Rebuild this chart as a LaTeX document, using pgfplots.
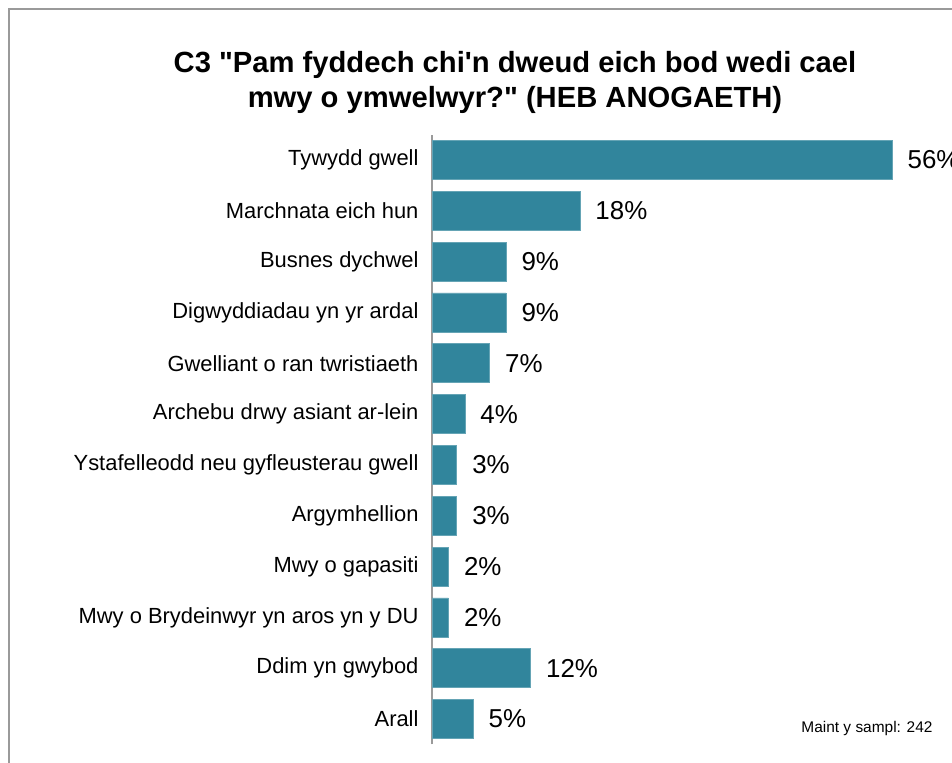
\documentclass[border=0pt]{standalone}
\usepackage{pgfplots}
\pgfplotsset{compat=1.18}
\usepackage{fontspec}
\setmainfont{Liberation Sans}[Ligatures=TeXOff]

\definecolor{barcol}{HTML}{31859C}
\definecolor{framecol}{HTML}{9A9A9A}

\begin{document}
\begin{tikzpicture}
  \clip (0,0) rectangle (952bp,-763bp);
  \draw[framecol, line width=1.6bp] (9bp,-770bp) -- (9bp,-9bp) -- (960bp,-9bp);

  \node[font=\fontsize{29.3}{33}\selectfont\bfseries, anchor=base] at (515bp,-72bp)
    {C3 "Pam fyddech chi'n dweud eich bod wedi cael};
  \node[font=\fontsize{29.3}{33}\selectfont\bfseries, anchor=base] at (515bp,-107bp)
    {mwy o ymwelwyr?" (HEB ANOGAETH)};

  \begin{axis}[
      at={(432bp,-744.4bp)}, anchor=south west,
      scale only axis,
      width=460bp, height=609.8bp,
      xmin=0, xmax=56,
      ymin=0.5, ymax=12.5,
      axis x line=none,
      axis y line*=left,
      y axis line style={draw=framecol, line width=1.6bp, -},
      ytick={1,...,12},
      yticklabels={Arall, Ddim yn gwybod, Mwy o Brydeinwyr yn aros yn y DU,
        Mwy o gapasiti, Argymhellion, Ystafelleodd neu gyfleusterau gwell,
        Archebu drwy asiant ar-lein, Gwelliant o ran twristiaeth,
        Digwyddiadau yn yr ardal, Busnes dychwel, Marchnata eich hun,
        Tywydd gwell},
      major tick length=0pt,
      yticklabel style={font=\fontsize{22}{26}\selectfont, anchor=east, xshift=-10bp},
      xbar, bar width=39bp,
      clip=false,
      point meta=x,
      /pgf/number format/assume math mode=true,
      nodes near coords={\pgfmathprintnumber[assume math mode=true]{\pgfplotspointmeta}\%},
      nodes near coords style={font=\fontsize{26}{30}\selectfont, anchor=west, xshift=12bp, text=black},
    ]
    \addplot[fill=barcol, draw=barcol!75!white, line width=0.6bp] coordinates {
      (5,1) (12,2) (2,3) (2,4) (3,5) (3,6) (4,7) (7,8) (9,9) (9,10) (18,11) (56,12)
    };
  \end{axis}

  \node[font=\fontsize{15.5}{18}\selectfont, anchor=east] at (936bp,-728bp) {Maint y sampl: 242};
\end{tikzpicture}
\end{document}
